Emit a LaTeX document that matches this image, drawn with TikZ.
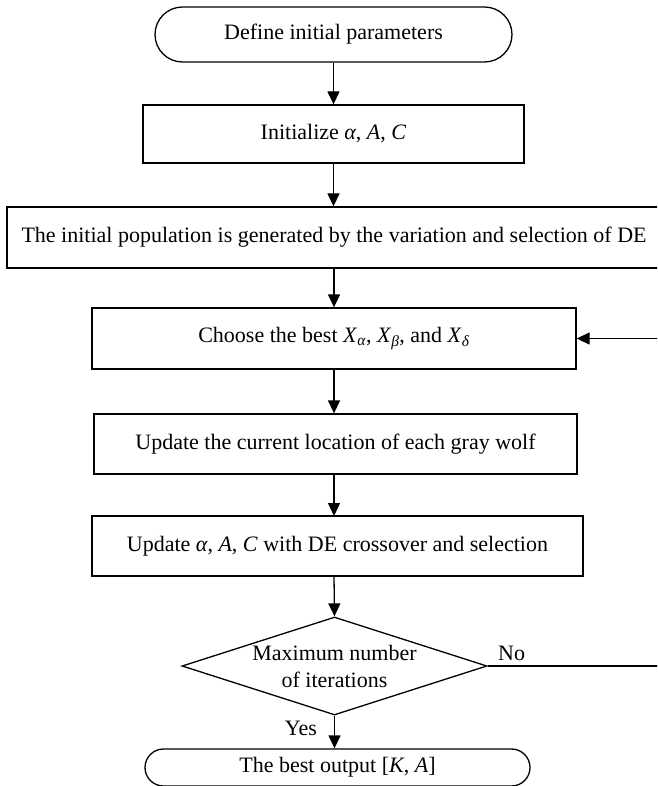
\documentclass[tikz,border=0pt]{standalone}
\usepackage{fontspec}
\setmainfont{Liberation Serif}
\usetikzlibrary{arrows.meta,shapes.geometric,shapes.misc}

\newcommand{\iv}[1]{\textit{#1}}

\begin{document}
\begin{tikzpicture}[x=1pt, y=-1pt, line width=1.3pt,
    font=\fontsize{22pt}{26pt}\selectfont,
    >={Triangle[length=13pt, width=12pt]},
    term/.style = {draw, rounded rectangle, inner sep=0pt},
    proc/.style = {draw, rectangle, inner sep=0pt},
    dec/.style = {draw, diamond, aspect=3.1, inner sep=0pt, align=center, font=\fontsize{22pt}{27pt}\selectfont}
    ]
    \useasboundingbox (0,0) rectangle (657,786);
    \clip (0,0) rectangle (657,786);

    \node[term, minimum width=357pt, minimum height=55pt] (0) at (333.5, 34.5) {Define initial parameters};
    \node[proc, minimum width=381pt, minimum height=58pt] (1) at (333.5, 134) {Initialize \iv{α}, \iv{A}, \iv{C}};
    \node[proc, minimum width=654pt, minimum height=61pt] (2) at (334, 237.5) {The initial population is generated by the variation and selection of DE};
    \node[proc, minimum width=484pt, minimum height=61pt] (3) at (334, 338.5) {Choose the best \iv{X}\textsubscript{\iv{α}}, \iv{X}\textsubscript{\iv{β}}, and \iv{X}\textsubscript{\iv{δ}}};
    \node[proc, minimum width=483pt, minimum height=60pt] (4) at (335.5, 444) {Update the current location of each gray wolf};
    \node[proc, minimum width=491pt, minimum height=60pt] (5) at (337.5, 546) {Update \iv{α}, \iv{A}, \iv{C} with DE crossover and selection};
    \node[dec, minimum width=305pt, minimum height=98pt] (6) at (334.5, 666) {Maximum number\\of iterations};
    \node[term, minimum width=385pt, minimum height=37pt] (7) at (337.5, 767.5) {The best output [\iv{K}, \iv{A}]};

    \node (yes) at (301, 728) {Yes};

    \draw[->] (0.south) -- (0.south |- 1.north);
    \draw[->] (1.south) -- (1.south |- 2.north);
    \draw[->] (334,268) -- (3.north);
    \draw[->] (3.south) -- (3.south |- 4.north);
    \draw[->] (334,474) -- (334,516);
    \draw[->] (334,576) -- (6.north);
    \draw[->] (6.south) -- (6.south |- 7.north);

    % back to the choice of the leaders
    \draw[->] (6.east) -- node[pos=0.12, above=1pt] (no) {No} ++(200,0) |- (3.east);

\end{tikzpicture}
\end{document}
